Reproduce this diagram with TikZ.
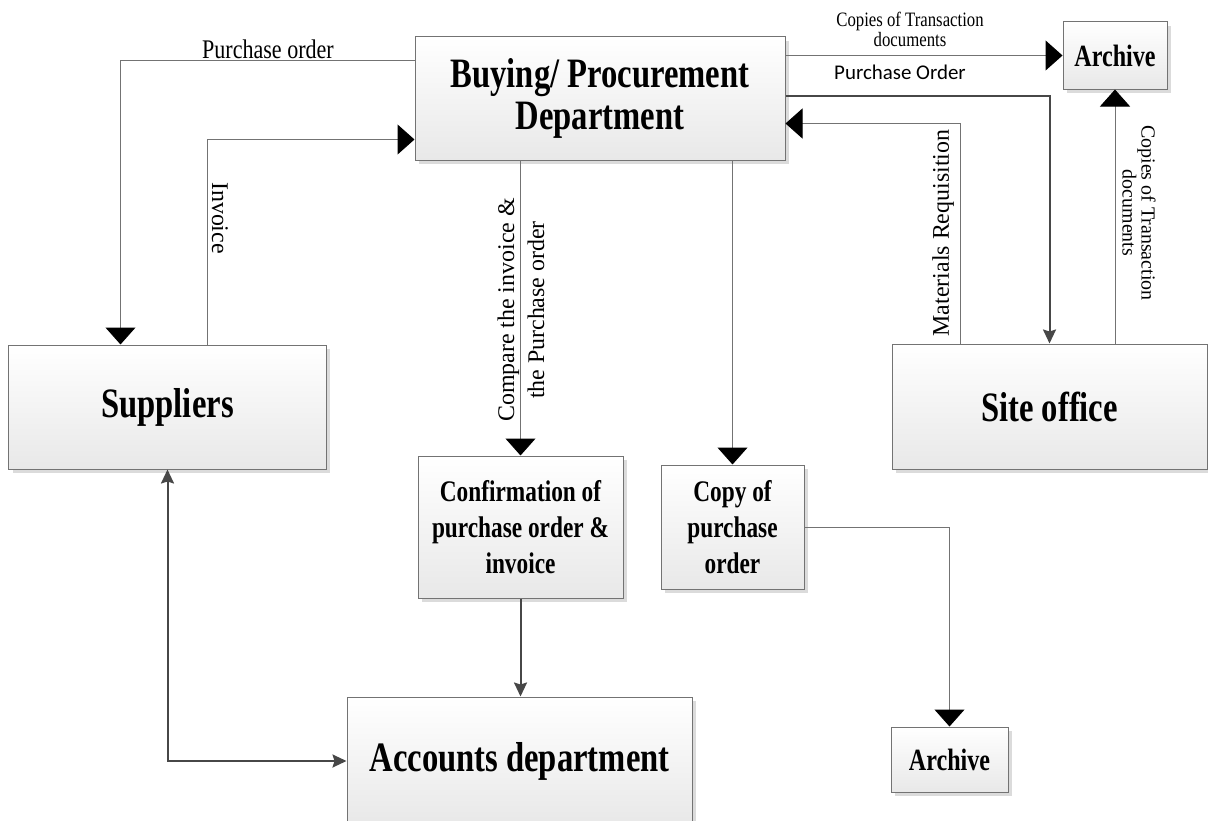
\documentclass[tikz,border=0pt]{standalone}
\usepackage{fontspec}
\setmainfont{Liberation Serif}
\newfontfamily\headfont[FakeStretch=0.78]{Liberation Serif}
\newfontfamily\notefont[FakeStretch=0.82]{Liberation Serif}
\newfontfamily\calibfont{Carlito}
\usetikzlibrary{arrows.meta,shadows,calc}

\tikzset{
  box/.style={draw=black!55, line width=1bp, top color=white, bottom color=black!9,
    drop shadow={shadow xshift=4bp, shadow yshift=-4bp, fill=black!14, opacity=1},
    align=center, inner sep=0pt},
  bigtext/.style={font=\headfont\bfseries\fontsize{42}{39}\selectfont},
  headtext/.style={font=\headfont\bfseries\fontsize{42}{42}\selectfont},
  midtext/.style={font=\headfont\bfseries\fontsize{30}{36.5}\selectfont},
  arctext/.style={font=\headfont\bfseries\fontsize{31}{36}\selectfont},
  thinline/.style={draw=black!55, line width=1bp},
  thickline/.style={draw=black!72, line width=2bp},
  bigtip/.style={-{Triangle[width=30bp,length=17bp,color=black,fill=black]}},
  graytip/.style={-{Stealth[width=13bp,length=14bp,inset=2bp]}},
  graytips/.style={{Stealth[width=13bp,length=14bp,inset=2bp]}-{Stealth[width=13bp,length=14bp,inset=2bp]}},
  lbl/.style={inner sep=0pt},
  vlbl/.style={inner sep=0pt, align=center, font=\fontsize{24}{30}\selectfont}
}

\begin{document}
\begin{tikzpicture}[x=1bp,y=-1bp]
\useasboundingbox (0,0) rectangle (1208,821);

% boxes
\node[box, headtext, minimum width=370bp, minimum height=123bp] (buy) at (600,98.5) {Buying/ Procurement\\Department};
\node[box, arctext, minimum width=104bp, minimum height=67bp] (arcT) at (1115,55.5) {Archive};
\node[box, bigtext, minimum width=317bp, minimum height=124bp] (sup) at (167.5,407) {Suppliers};
\node[box, bigtext, minimum width=315bp, minimum height=125bp] (site) at (1049.5,406.5) {Site office};
\node[box, midtext, minimum width=205bp, minimum height=142bp] (conf) at (520.5,527) {Confirmation of\\purchase order \&\\invoice};
\node[box, midtext, minimum width=143bp, minimum height=124bp] (copy) at (732.5,527) {Copy of\\purchase\\order};
\node[box, arctext, minimum width=117bp, minimum height=65bp] (arcB) at (949.5,759.5) {Archive};
\node[box, bigtext, minimum width=345bp, minimum height=128bp] (acc) at (519.5,761) {Accounts department};

% connectors
\draw[thinline, bigtip] ($(buy.north west)+(0,24)$) -| ($(sup.north west)+(112,0)$);
\draw[thinline, bigtip] ($(sup.north west)+(199,0)$) |- ($(buy.north west)+(0,103)$);
\draw[thinline, bigtip] (buy.east |- arcT.west) -- (arcT.west);
\draw[thickline, graytip] ($(buy.north east)+(0,60)$) -| (site.north);
\draw[thinline, bigtip] ($(site.north west)+(69,0)$) |- ($(buy.north east)+(0,87)$);
\draw[thinline, bigtip] (site.north -| arcT.south) -- (arcT.south);
\draw[thinline, bigtip] (buy.south -| conf.north) -- (conf.north);
\draw[thinline, bigtip] (buy.south -| copy.north) -- (copy.north);
\draw[thinline, bigtip] (copy.east) -| (arcB.north);
\draw[thickline, graytip] (conf.south) -- (conf.south |- acc.north);
\draw[thickline, graytips] (sup.south) |- (acc.west);

% connector labels
\node[lbl, anchor=base, font=\notefont\fontsize{27}{30}\selectfont] (lpo) at (268,59) {Purchase order};
\node[lbl, anchor=base, font=\notefont\fontsize{20.5}{20}\selectfont] (lcopa) at (910,27) {Copies of Transaction};
\node[lbl, anchor=base, font=\notefont\fontsize{20.5}{20}\selectfont] (lcopb) at (910,47) {documents};
\node[lbl, anchor=base, font=\calibfont\fontsize{21}{24}\selectfont] (lpo2) at (900,80) {Purchase Order};
\node[vlbl, rotate=-90] (linv) at (220,218) {Invoice};
\node[vlbl, rotate=90] (lcmp) at (521,310) {Compare the invoice \&\\the Purchase order};
\node[vlbl, rotate=90] (lmat) at (943,233) {Materials Requisition};
\node[vlbl, rotate=-90, font=\fontsize{20}{19}\selectfont] (lcopv) at (1139,213) {Copies of Transaction\\documents};
\end{tikzpicture}
\end{document}
